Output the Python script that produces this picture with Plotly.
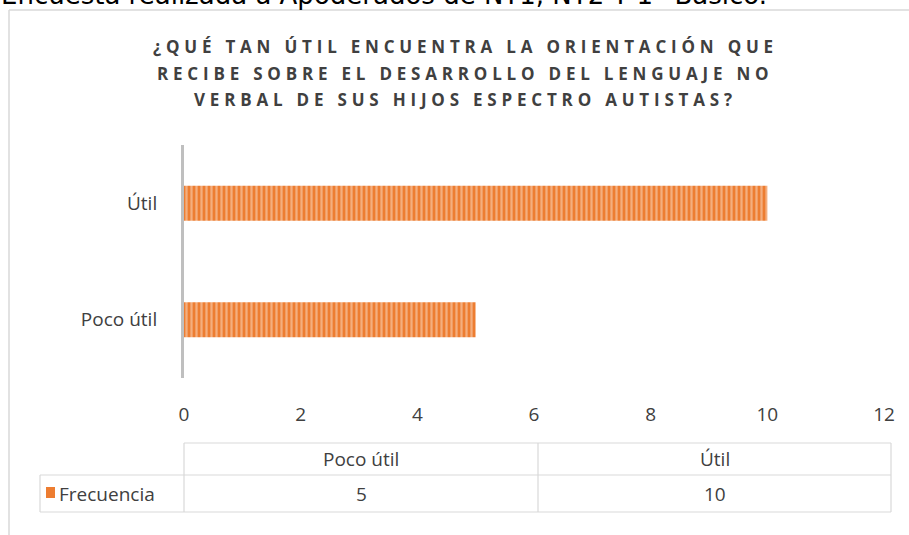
import plotly.graph_objects as go

categories = ["Poco útil", "Útil"]
values = [5, 10]
series_name = "Frecuencia"
title_lines = [
    "¿QUÉ TAN ÚTIL ENCUENTRA LA ORIENTACIÓN QUE",
    "RECIBE SOBRE EL DESARROLLO DEL LENGUAJE NO",
    "VERBAL DE SUS HIJOS ESPECTRO AUTISTAS?",
]
top_caption = "Encuesta realizada a Apoderados de NT1, NT2 Y 1° Básico."
x_ticks = [0, 2, 4, 6, 8, 10, 12]

W, H = 909, 535
L, R, T, B = 184, 25, 145, 157
PW, PH = W - L - R, H - T - B


def px(X):
    return (X - L) / PW


def py(Y):
    return (H - B - Y) / PH


FONT = "Open Sans"
TXT = "#404040"
ORANGE = "#ED7D31"
FS = 19

fig = go.Figure()
fig.add_trace(go.Bar(
    y=categories, x=values, orientation="h", name=series_name,
    width=0.3,
    marker=dict(color=ORANGE, line=dict(width=0),
                pattern=dict(shape="|", fgcolor="#FBE0CC", bgcolor=ORANGE,
                             size=5, solidity=0.45)),
    showlegend=False,
))

anns = []
shapes = []

# caption cut at the top
anns.append(dict(xref="paper", yref="paper", x=px(-1), y=py(-5), xanchor="left",
                 yanchor="middle", text=top_caption, showarrow=False,
                 font=dict(family="DejaVu Sans", size=26, color="#000000")))

# title lines
for i, line in enumerate(title_lines):
    anns.append(dict(xref="paper", yref="paper", x=px(465), y=py(47 + 26 * i),
                     xanchor="center", yanchor="middle", showarrow=False,
                     text='<span style="letter-spacing:4.8px">' + line + '</span>',
                     font=dict(family=FONT, size=17, color=TXT, weight="bold")))

# chart frame
shapes.append(dict(type="line", xref="paper", yref="paper", x0=px(9), x1=px(915),
                   y0=py(10), y1=py(10), line=dict(color="#d9d9d9", width=1.5)))
shapes.append(dict(type="line", xref="paper", yref="paper", x0=px(9), x1=px(9),
                   y0=py(10), y1=py(540), line=dict(color="#d9d9d9", width=1.5)))

# data table
grid = "#d9d9d9"
tl, tm, tr = 40, 538, 891
y_top, y_mid, y_bot = 443, 475, 512
shapes += [
    dict(type="line", xref="paper", yref="paper", x0=px(L), x1=px(tr), y0=py(y_top), y1=py(y_top), line=dict(color=grid, width=1.2)),
    dict(type="line", xref="paper", yref="paper", x0=px(tl), x1=px(tr), y0=py(y_mid), y1=py(y_mid), line=dict(color=grid, width=1.2)),
    dict(type="line", xref="paper", yref="paper", x0=px(tl), x1=px(tr), y0=py(y_bot), y1=py(y_bot), line=dict(color=grid, width=1.2)),
    dict(type="line", xref="paper", yref="paper", x0=px(tl), x1=px(tl), y0=py(y_mid), y1=py(y_bot), line=dict(color=grid, width=1.2)),
    dict(type="line", xref="paper", yref="paper", x0=px(L), x1=px(L), y0=py(y_top), y1=py(y_bot), line=dict(color=grid, width=1.2)),
    dict(type="line", xref="paper", yref="paper", x0=px(tm), x1=px(tm), y0=py(y_top), y1=py(y_bot), line=dict(color=grid, width=1.2)),
    dict(type="line", xref="paper", yref="paper", x0=px(tr), x1=px(tr), y0=py(y_top), y1=py(y_bot), line=dict(color=grid, width=1.2)),
    dict(type="rect", xref="paper", yref="paper", x0=px(46), x1=px(55), y0=py(487), y1=py(498),
         fillcolor=ORANGE, line=dict(width=0)),
]
col_centers = [(L + tm) / 2, (tm + tr) / 2]
for c, cat, v in zip(col_centers, categories, values):
    anns.append(dict(xref="paper", yref="paper", x=px(c), y=py((y_top + y_mid) / 2),
                     xanchor="center", yanchor="middle", text=cat, showarrow=False,
                     font=dict(family=FONT, size=FS, color=TXT)))
    anns.append(dict(xref="paper", yref="paper", x=px(c), y=py((y_mid + y_bot) / 2),
                     xanchor="center", yanchor="middle", text=str(v), showarrow=False,
                     font=dict(family=FONT, size=FS, color=TXT)))
anns.append(dict(xref="paper", yref="paper", x=px(57), y=py((y_mid + y_bot) / 2),
                 xanchor="left", yanchor="middle", text=series_name, showarrow=False,
                 font=dict(family=FONT, size=FS, color=TXT)))

fig.update_layout(
    width=W, height=H,
    margin=dict(l=L, r=R, t=T, b=B, pad=0),
    paper_bgcolor="white", plot_bgcolor="white",
    annotations=anns, shapes=shapes,
    xaxis=dict(range=[0, 12], tickvals=x_ticks, showgrid=False, zeroline=False,
               showline=False, ticks="outside", ticklen=19, tickcolor="rgba(0,0,0,0)",
               tickfont=dict(family=FONT, size=FS, color=TXT), fixedrange=True),
    yaxis=dict(categoryorder="array", categoryarray=categories, showgrid=False,
               zeroline=False, showline=True, linecolor="#bfbfbf", linewidth=3,
               ticks="outside", ticklen=20, tickcolor="rgba(0,0,0,0)",
               tickfont=dict(family=FONT, size=FS, color=TXT), fixedrange=True),
)

fig.write_html("out.html", config={"displayModeBar": False},
               post_script="document.body.style.margin='0';")
